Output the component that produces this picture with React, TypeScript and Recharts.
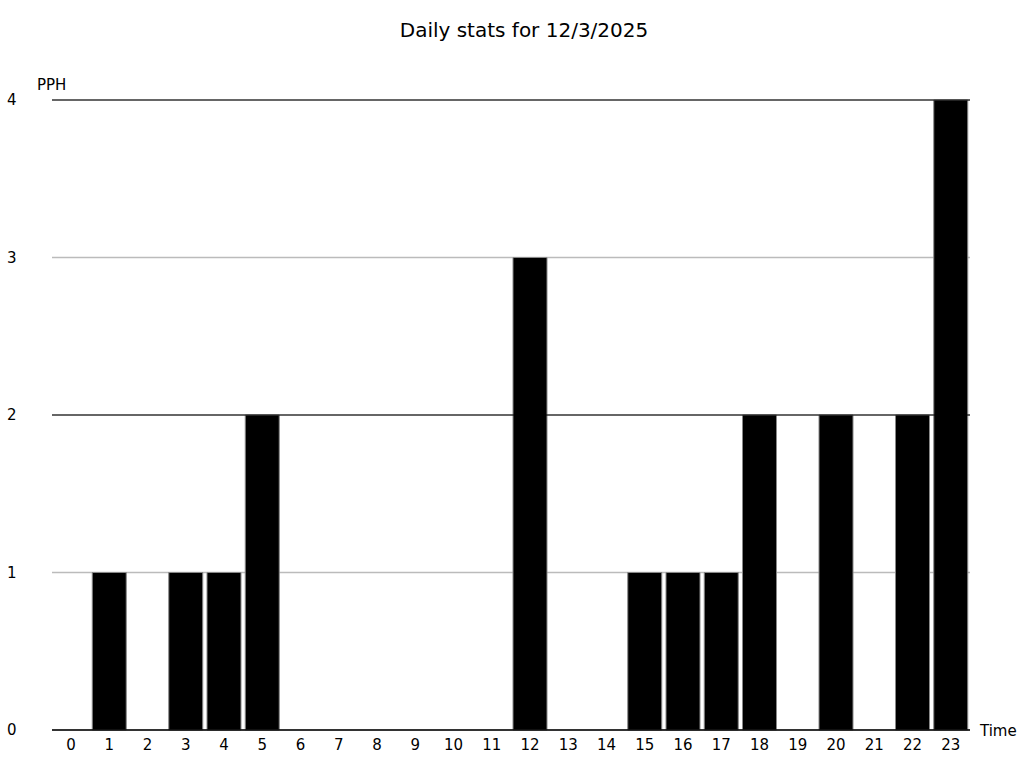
import { Bar, BarChart, CartesianGrid, ReferenceLine, XAxis, YAxis } from "recharts";

const hours = [
  "0", "1", "2", "3", "4", "5", "6", "7", "8", "9", "10", "11",
  "12", "13", "14", "15", "16", "17", "18", "19", "20", "21", "22", "23",
];
const pph = [0, 1, 0, 1, 1, 2, 0, 0, 0, 0, 0, 0, 3, 0, 0, 1, 1, 1, 2, 0, 2, 0, 2, 4];
const yTicks = [0, 1, 2, 3, 4];
const darkLines = [2, 4];

const data = hours.map((h, i) => ({ hour: h, pph: pph[i] }));

const FONT = "DejaVu Sans, sans-serif";

const YTick = (props: any) => {
  const { y, payload } = props;
  return (
    <text x={7} y={y} dy={5} fontSize={15} fontFamily={FONT} fill="#000" textAnchor="start">
      {payload.value}
    </text>
  );
};

export default function App() {
  return (
    <div style={{ position: "absolute", left: 0, top: 0, width: 1024, height: 768, background: "#fff" }}>
      <BarChart
        width={1024}
        height={768}
        data={data}
        margin={{ top: 100, right: 54, bottom: 8, left: 0 }}
        barCategoryGap={2}
      >
        <CartesianGrid vertical={false} stroke="#bbbbbb" strokeWidth={1.5} />
        <XAxis
          dataKey="hour"
          height={30}
          tickLine={false}
          tickMargin={3}
          axisLine={{ stroke: "#000", strokeWidth: 1.5 }}
          tick={{ fill: "#000", fontSize: 15, fontFamily: FONT }}
          interval={0}
        />
        <YAxis
          width={52}
          domain={[0, 4]}
          ticks={yTicks}
          axisLine={false}
          tickLine={false}
          tick={<YTick />}
        />
        <Bar dataKey="pph" fill="#000" stroke="#888" strokeWidth={1} isAnimationActive={false} />
        {darkLines.map((v) => (
          <ReferenceLine key={v} y={v} stroke="#000" strokeWidth={1} />
        ))}
      </BarChart>
      <svg width={1024} height={768} style={{ position: "absolute", left: 0, top: 0, pointerEvents: "none" }}>
        <text x={524} y={37} textAnchor="middle" fontSize={20} fontFamily={FONT} fill="#000">
          Daily stats for 12/3/2025
        </text>
        <text x={37} y={90} fontSize={15} fontFamily={FONT} fill="#000">
          PPH
        </text>
        <text x={980} y={736} fontSize={15} fontFamily={FONT} fill="#000">
          Time
        </text>
      </svg>
    </div>
  );
}
